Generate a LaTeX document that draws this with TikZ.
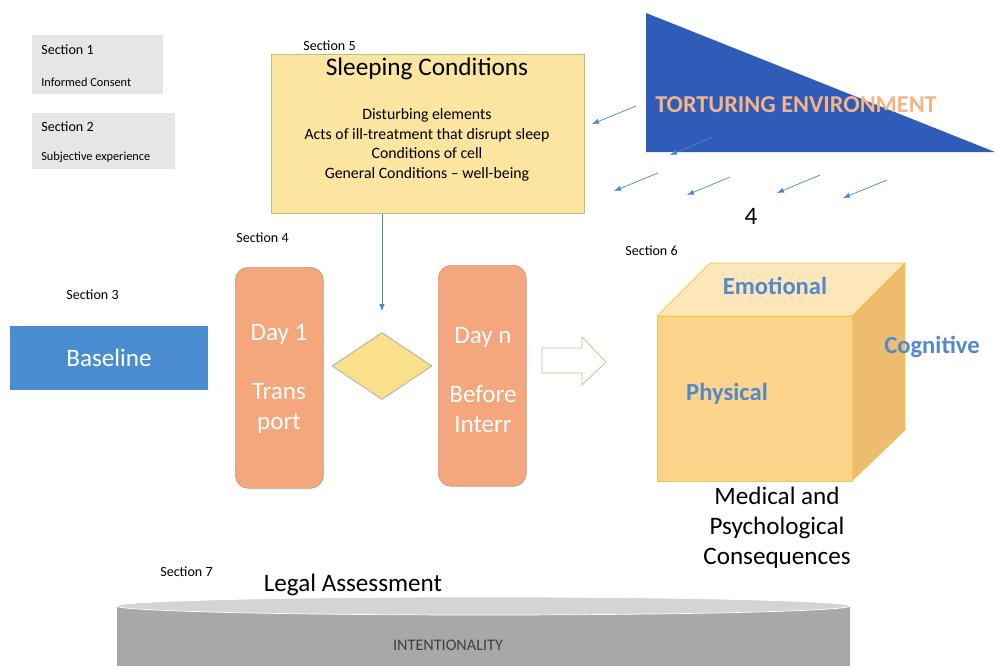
\documentclass[tikz,border=0pt]{standalone}
\usepackage{fontspec}
\setmainfont{Carlito}
\usepackage{xcolor}
\usetikzlibrary{shapes.geometric}
\definecolor{boxgrey}{HTML}{E6E6E6}
\definecolor{sleepfill}{HTML}{FBE5A0}
\definecolor{sleepline}{HTML}{B9C46E}
\definecolor{torture}{HTML}{2F5CB9}
\definecolor{torturetext}{HTML}{F4B486}
\definecolor{raycol}{HTML}{4A86C8}
\definecolor{basefill}{HTML}{4A8DD0}
\definecolor{dayfill}{HTML}{F4A67C}
\definecolor{dayline}{HTML}{C99A86}
\definecolor{diafill}{HTML}{FBE08C}
\definecolor{arrowgreen}{HTML}{A9CC8A}
\definecolor{cubefront}{HTML}{FCD38A}
\definecolor{cubetop}{HTML}{FDE6B9}
\definecolor{cubeside}{HTML}{EDBC6E}
\definecolor{cubeline}{HTML}{F2C744}
\definecolor{dimtext}{HTML}{5289CC}
\definecolor{disktop}{HTML}{D4D4D4}
\definecolor{diskbody}{HTML}{A8A8A8}

\begin{document}
\begin{tikzpicture}[x=0.02cm, y=-0.02cm, >=latex,%
        sect/.style={anchor=west, inner sep=0pt, font=\fontsize{8}{10}\selectfont},
        small/.style={anchor=west, inner sep=0pt, font=\fontsize{7}{9}\selectfont},
        greybox/.style={fill=boxgrey, anchor=north west, inner sep=0pt},
        big/.style={font=\fontsize{14.3}{17}\selectfont},
        daybox/.style={draw=dayline, fill=dayfill, rounded corners=0.26cm, anchor=north west, inner sep=0pt, minimum width=1.76cm, minimum height=4.42cm},
        daytext/.style={big, text=white, align=center},
        dimension/.style={font=\fontsize{14}{17}\bfseries\selectfont, text=dimtext},
        ray/.style={->, raycol, thin}]
        \useasboundingbox (0,0) rectangle (995,666);
        \node[greybox, minimum width=2.62cm, minimum height=1.18cm] (s1) at (32,35) {};
        \node[sect] (s1title) at (41,50) {Section 1};
        \node[small] (s1text) at (41,82) {Informed Consent};
        \node[greybox, minimum width=2.86cm, minimum height=1.12cm] (s2) at (32,113) {};
        \node[sect] (s2title) at (41,127) {Section 2};
        \node[small] (s2text) at (41,157) {Subjective experience};

        \node[sect] (s5) at (303,46) {Section 5};
        \node[draw=sleepline, fill=sleepfill, anchor=north west, minimum width=6.26cm, minimum height=3.18cm] (sleep) at (271,54) {};
        \node[font=\fontsize{14.4}{17}\selectfont] (sleeptitle) at (427,69) {Sleeping Conditions};
        \node[font=\fontsize{9}{11.2}\selectfont, align=center] (sleeplist) at (427,145) {Disturbing elements\\Acts of ill-treatment that disrupt sleep\\Conditions of cell\\General Conditions -- well-being};

        \fill[torture] (646,13) -- (646,152) -- (995,152) -- cycle;
        \node[font=\fontsize{13.8}{16}\bfseries\selectfont, text=torturetext] (torture) at (796,105) {TORTURING ENVIRONMENT};
        \foreach \sx/\sy/\ex/\ey in {636/106/592/124, 713/137/670/155, 658/173/614/191, 730/177/687/195, 820/175/777/193, 887/180/843/198}
            \draw[ray] (\sx,\sy) -- (\ex,\ey);
        \node[big] (four) at (751,216) {4};

        \node[sect] (s4) at (236,238) {Section 4};
        \node[sect] (s3) at (66,295) {Section 3};
        \node[fill=basefill, text=white, big, minimum width=3.96cm, minimum height=1.3cm] (base) at (109,358) {Baseline};
        \node[daybox] (day1) at (235,267) {};
        \node[daytext] (day1text) at (279,379) {Day 1\\[\baselineskip]Trans\\port};
        \node[draw=gray!70, fill=diafill, diamond, inner sep=0pt, minimum width=2cm, minimum height=1.34cm] (dia) at (382,366) {};
        \node[daybox] (dayn) at (438,265) {};
        \node[daytext] (dayntext) at (483,380) {Day n\\[\baselineskip]Before\\Interr};
        \draw[->, raycol] (sleep.south -| dia.north) -- ([yshift=0.42cm]dia.north);

        \draw[arrowgreen, fill=white] (542,348) -- (582,348) -- (582,337) -- (606,362) -- (582,385) -- (582,373) -- (542,373) -- cycle;

        \node[sect] (s6) at (625,251) {Section 6};
        \filldraw[cubeline, fill=cubetop] (657,316) -- (710,263) -- (905,263) -- (852,316) -- cycle;
        \filldraw[cubeline, fill=cubeside] (852,316) -- (905,263) -- (905,430) -- (852,481) -- cycle;
        \filldraw[cubeline, fill=cubefront] (657,316) rectangle (852,481);
        \node[dimension] (emotional) at (775,286) {Emotional};
        \node[dimension] (cognitive) at (932,347) {Cognitive};
        \node[dimension] (physical) at (727,394) {Physical};
        \node[big, align=center] (medical) at (777,528) {Medical and\\Psychological\\Consequences};

        \node[sect] (s7) at (160,572) {Section 7};
        \node[big] (legal) at (353,585) {Legal Assessment};
        \fill[diskbody] (117,606) rectangle (850,666);
        \filldraw[draw=white, fill=disktop] (483.5,606) ellipse (366.5 and 9);
        \node[font=\fontsize{9.2}{11}\selectfont, text=black!75] (intent) at (448,645) {INTENTIONALITY};
    \end{tikzpicture}
\end{document}
